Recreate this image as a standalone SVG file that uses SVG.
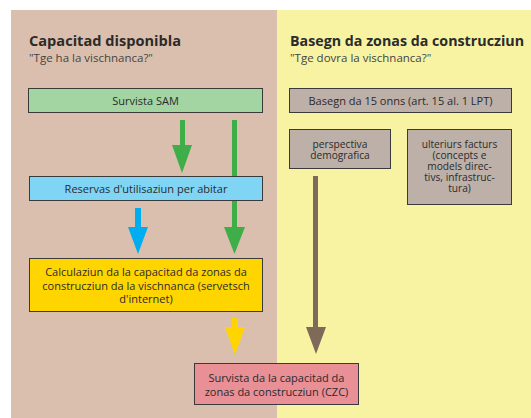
<svg xmlns="http://www.w3.org/2000/svg" width="531" height="418" viewBox="0 0 531 418">
<style>
text{font-family:"Open Sans","Noto Sans","Liberation Sans",sans-serif;fill:#2b2b2b}
.t{font-size:15px;font-weight:bold}
.s{font-size:11.5px;fill:#444}
.l{font-size:11px;text-anchor:middle}
.u{font-size:10.2px;text-anchor:middle}
.box{stroke:#3a3a3a;stroke-width:1}
</style>
<rect x="11" y="10" width="266" height="408" fill="#dbbfae"/>
<rect x="277" y="10" width="254" height="408" fill="#f7f3a3"/>
<text class="t" x="29" y="46" textLength="152" lengthAdjust="spacingAndGlyphs">Capacitad disponibla</text>
<text class="s" x="29" y="62">"Tge ha la vischnanca?"</text>
<text class="t" x="290" y="46" textLength="234" lengthAdjust="spacingAndGlyphs">Basegn da zonas da construcziun</text>
<text class="s" x="290" y="62">"Tge dovra la vischnanca?"</text>
<g id="connectors">
<path d="M180 120h5v25h7l-10 28l-10-28h8z" fill="#3fae49"/>
<path d="M232 120h5v107h8l-10.5 27l-10.5-27h8z" fill="#3fae49"/>
<path d="M135 208h6v19h7l-10 27l-10-27h7z" fill="#00aeef"/>
<path d="M232 318h6v9h7l-10 28l-10-28h7z" fill="#ffd400"/>
<path d="M313 176h5v151h8l-10 27l-10-27h7z" fill="#7f6a5a"/>
</g>
<g id="sam"><rect class="box" x="28.5" y="88.5" width="234" height="24" fill="#a2d5a2"/><text class="l" x="145.5" y="104.5">Survista SAM</text></g>
<g id="reservas"><rect class="box" x="29.5" y="176.5" width="233" height="24" fill="#80d5f5"/><text class="l" x="146" y="192.5">Reservas d'utilisaziun per abitar</text></g>
<g id="calc"><rect class="box" x="29.5" y="258.5" width="233" height="53" fill="#ffd500"/><text class="l" x="146" y="276">Calculaziun da la capacitad da zonas da</text><text class="l" x="146" y="289.5">construcziun da la vischnanca (servetsch</text><text class="l" x="146" y="303">d'internet)</text></g>
<g id="czc"><rect class="box" x="194.5" y="363.5" width="164" height="41" fill="#e98f96"/><text class="l" x="276.5" y="382">Survista da la capacitad da</text><text class="l" x="276.5" y="395.5">zonas da construcziun (CZC)</text></g>
<g id="basegn15"><rect class="box" x="289.5" y="88.5" width="222" height="24" fill="#bcb0a8"/><text class="l" x="400.5" y="104.5">Basegn da 15 onns (art. 15 al. 1 LPT)</text></g>
<g id="perspectiva"><rect class="box" x="289.5" y="129.5" width="101" height="39" fill="#bcb0a8"/><text class="u" x="340" y="147.5">perspectiva</text><text class="u" x="340" y="159">demografica</text></g>
<g id="ulteriurs"><rect class="box" x="407.5" y="129.5" width="104" height="75" fill="#bcb0a8"/><text class="u" x="459.5" y="147.5">ulteriurs facturs</text><text class="u" x="459.5" y="158.5">(concepts e</text><text class="u" x="459.5" y="169.5">models direc-</text><text class="u" x="459.5" y="180.5">tivs, infrastruc-</text><text class="u" x="459.5" y="191.5">tura)</text></g>
</svg>
